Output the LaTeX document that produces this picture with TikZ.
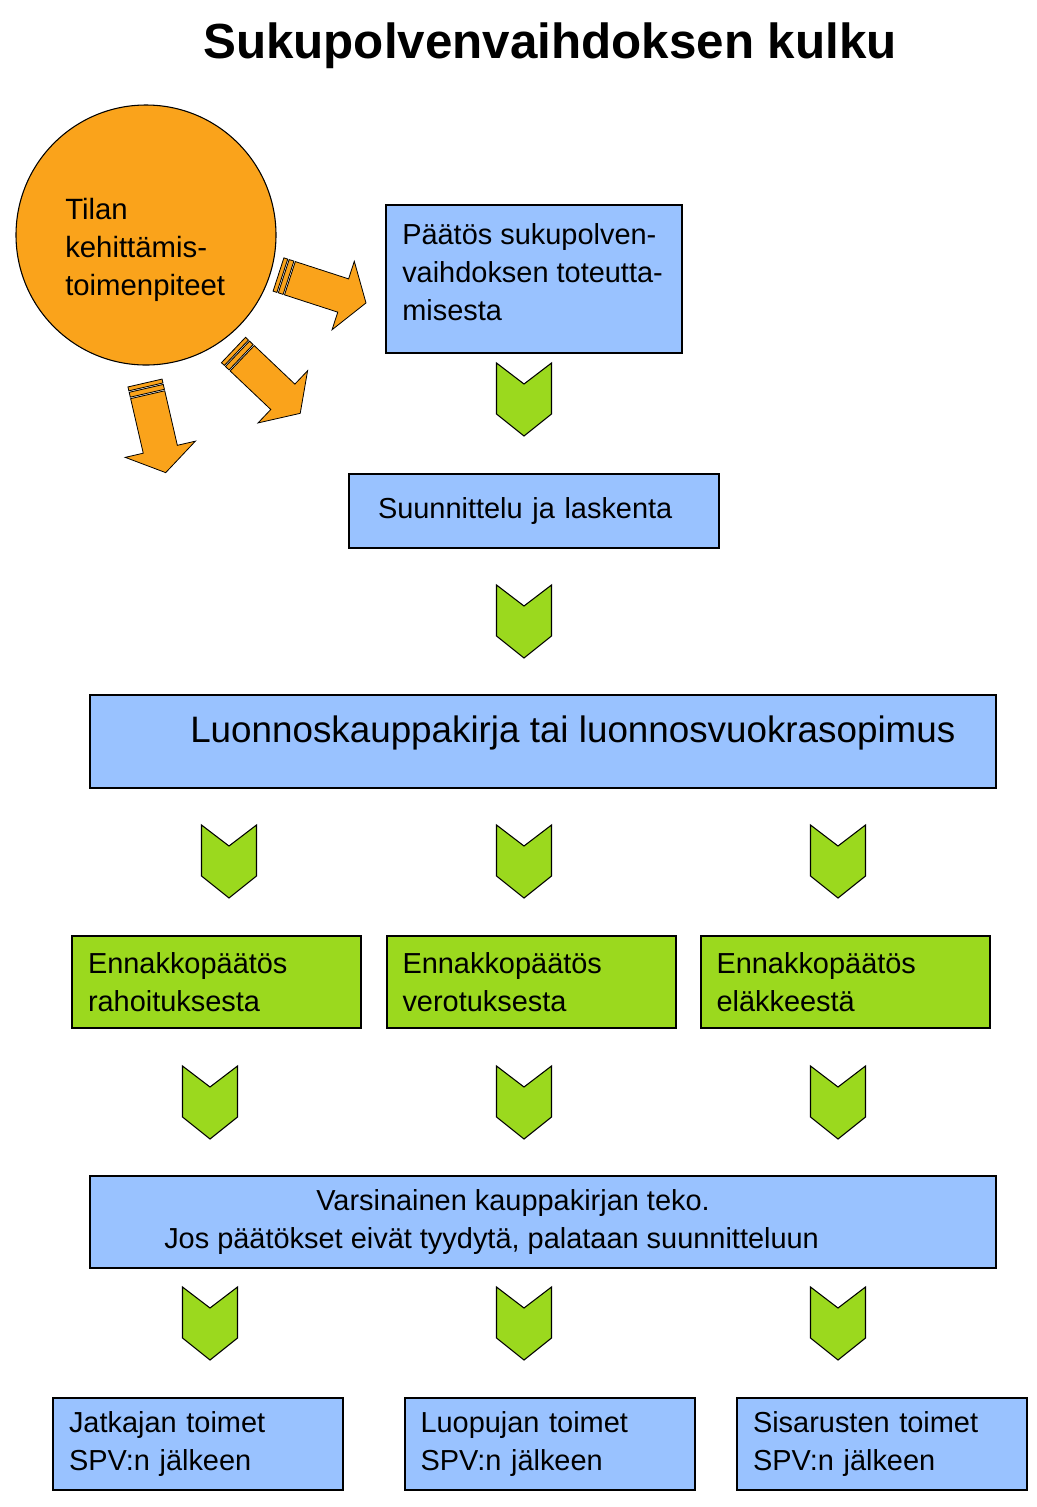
\documentclass[tikz,border=0pt]{standalone}
\usepackage{fontspec}
\setmainfont{Liberation Sans}
\definecolor{laatikkosin}{RGB}{153,194,255}
\definecolor{vihrea}{RGB}{155,217,30}
\definecolor{oranssi}{RGB}{250,163,27}
\tikzset{
  teksti/.style={font=\fontsize{21.7}{28.5}\selectfont},
  sinilaatikko/.style={draw, line width=1.5pt, fill=laatikkosin, teksti, align=left, inner xsep=12pt},
  vihrealaatikko/.style={draw, line width=1.5pt, fill=vihrea, teksti, align=left, inner xsep=12pt},
  chevron/.pic={
    \draw[fill=vihrea, line width=0.8pt] (-27.5,0) -- (0,21) -- (27.5,0) -- (27.5,51) -- (0,73) -- (-27.5,51) -- cycle;
  },
  kehitysnuoli/.pic={
    \draw[fill=oranssi, line width=0.6pt] (0,-17.5) rectangle (4,17.5);
    \draw[fill=oranssi, line width=0.6pt] (5.5,-17.5) rectangle (10.5,17.5);
    \draw[fill=oranssi, line width=0.6pt] (12,-17.5) -- (68,-17.5) -- (68,-36) -- (92,0)
      -- (68,36) -- (68,17.5) -- (12,17.5) -- cycle;
  }
}
\begin{document}
\begin{tikzpicture}[x=0.75pt,y=-0.75pt]
\useasboundingbox (0,0) rectangle (1037,1507);
% otsikko
\node[anchor=base, font=\fontsize{37}{40}\selectfont\bfseries] (otsikko) at (550,58) {Sukupolvenvaihdoksen kulku};
% tilan kehittaminen
\node[circle, draw, fill=oranssi, line width=0.8pt, minimum size=195pt] (tila) at (146,235) {};
\node[teksti, font=\fontsize{22}{28.5}\selectfont, align=left, anchor=west, inner sep=0pt] (tilateksti) at (65,250)
  {Tilan\\kehittämis-\\toimenpiteet};
\pic[rotate=-18] at (278.5,274.5) {kehitysnuoli};
\pic[rotate=-43.5] at (233.5,350) {kehitysnuoli};
\pic[rotate=-77] at (145,383) {kehitysnuoli};
% laatikot
\node[sinilaatikko, minimum width=222pt, minimum height=111pt] (paatos) at (534,279) {};
\node[teksti, align=left, anchor=west, inner sep=0pt] (paatosteksti) at (402,272)
  {Päätös sukupolven-\\vaihdoksen toteutta-\\misesta};
\node[sinilaatikko, minimum width=277.5pt, minimum height=55.5pt, inner xsep=21.75pt, text width=234pt] (suunnittelu) at (534,511)
  {Suunnittelu ja laskenta};
\node[sinilaatikko, minimum width=679.5pt, minimum height=69.75pt] (luonnos) at (543,741.5) {};
\node[anchor=base west, inner sep=0pt, font=\fontsize{27.6}{34}\selectfont] (luonnosteksti) at (190,742)
  {Luonnoskauppakirja tai luonnosvuokrasopimus};
\node[vihrealaatikko, minimum width=216.75pt, minimum height=69pt, text width=192.75pt] (rahoitus) at (216.5,982)
  {Ennakkopäätös\\rahoituksesta};
\node[vihrealaatikko, minimum width=216.75pt, minimum height=69pt, text width=192.75pt] (verotus) at (531,982)
  {Ennakkopäätös\\verotuksesta};
\node[vihrealaatikko, minimum width=216.75pt, minimum height=69pt, text width=192.75pt] (elake) at (845,982)
  {Ennakkopäätös\\eläkkeestä};
\node[sinilaatikko, minimum width=679.5pt, minimum height=69pt] (kauppa) at (543,1222) {};
\node[teksti, align=left, anchor=west, inner sep=0pt] (kauppateksti) at ([xshift=56.25pt]kauppa.west)
  {\hspace*{114pt}Varsinainen kauppakirjan teko.\\Jos päätökset eivät tyydytä, palataan suunnitteluun};
\node[sinilaatikko, minimum width=217.5pt, minimum height=69pt, text width=193.5pt] (jatkaja) at (198,1444)
  {Jatkajan toimet\\SPV:n jälkeen};
\node[sinilaatikko, minimum width=217.5pt, minimum height=69pt, text width=193.5pt] (luopuja) at (549.5,1444)
  {Luopujan toimet\\SPV:n jälkeen};
\node[sinilaatikko, minimum width=217.5pt, minimum height=69pt, text width=193.5pt] (sisarus) at (882,1444)
  {Sisarusten toimet\\SPV:n jälkeen};
% nuolet
\pic at (524,363) {chevron};
\pic at (524,585) {chevron};
\pic at (229,825) {chevron};
\pic at (524,825) {chevron};
\pic at (838,825) {chevron};
\pic at (210,1066) {chevron};
\pic at (524,1066) {chevron};
\pic at (838,1066) {chevron};
\pic at (210,1287) {chevron};
\pic at (524,1287) {chevron};
\pic at (838,1287) {chevron};
\end{tikzpicture}
\end{document}
